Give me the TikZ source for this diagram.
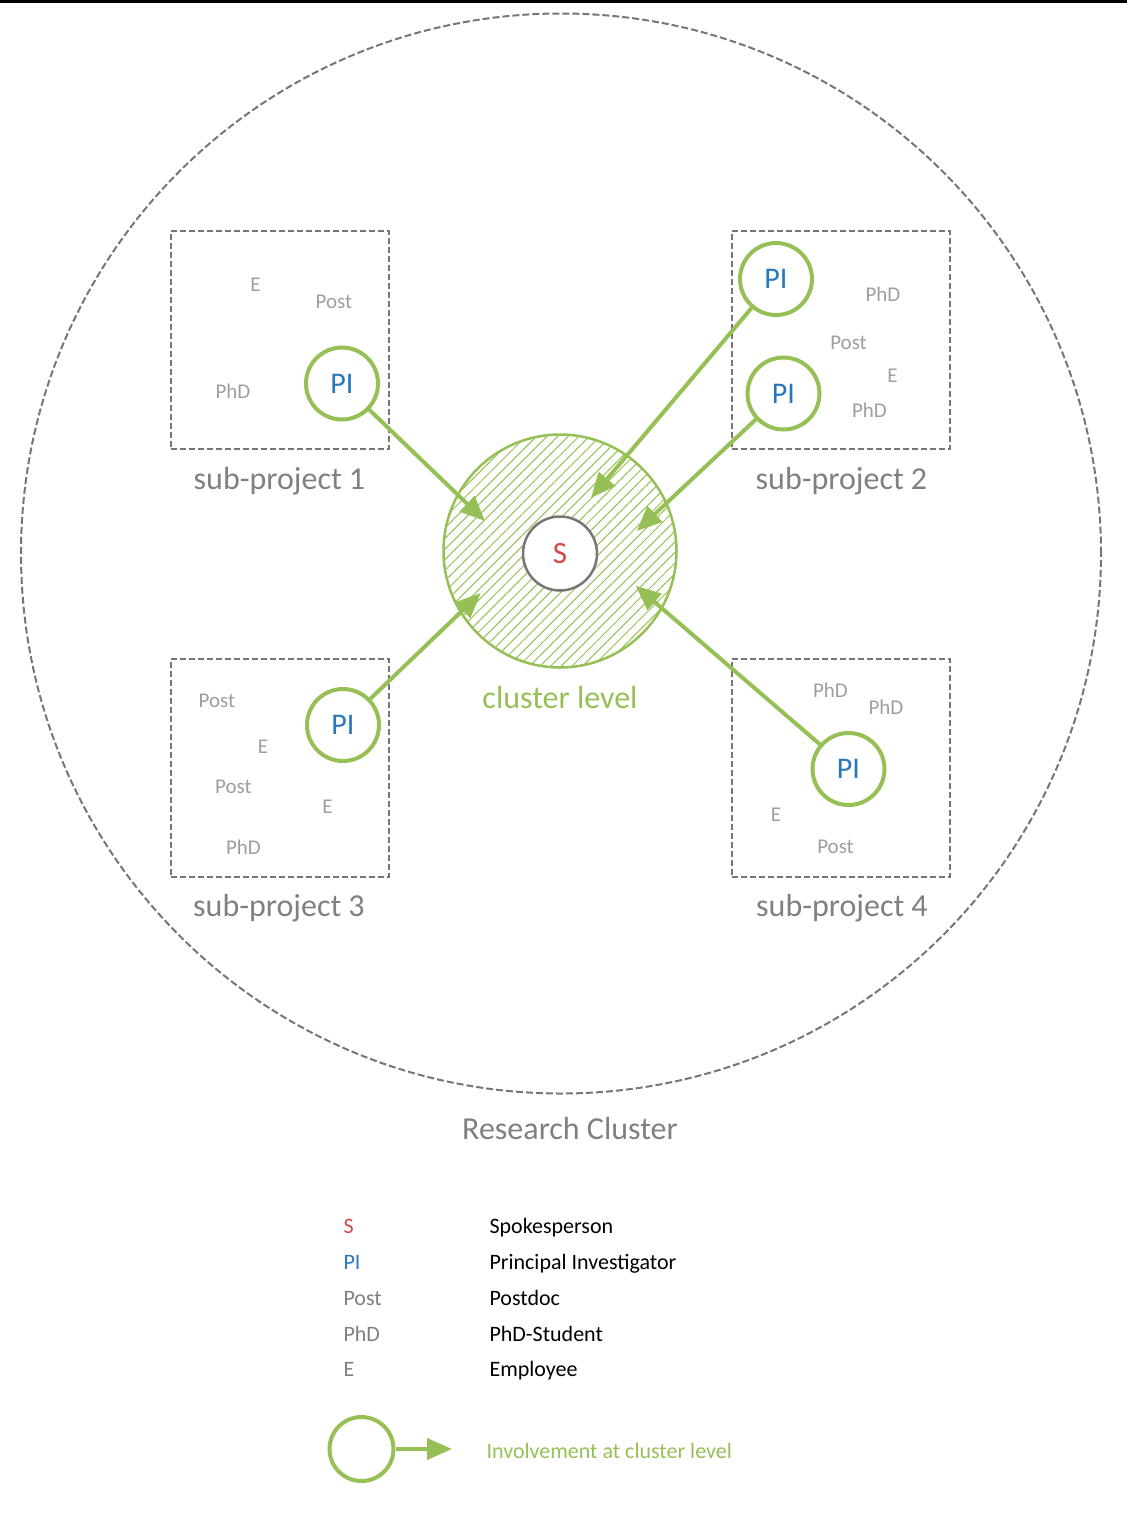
\documentclass[tikz,border=0pt]{standalone}
\usepackage{fontspec}
\setmainfont{Carlito}
\usetikzlibrary{arrows.meta,patterns.meta}
\definecolor{grn}{RGB}{150,192,85}
\definecolor{piblue}{RGB}{40,118,188}
\definecolor{sred}{RGB}{214,72,72}
\definecolor{gtxt}{RGB}{128,128,128}
\definecolor{gsmall}{RGB}{158,158,158}
\definecolor{gline}{RGB}{118,118,118}
\tikzset{
  fs/.style={font=\fontsize{#1}{#1}\selectfont},
  role/.style={anchor=base,text=gsmall,fs=21},
  picirc/.style={circle,draw=grn,fill=white,line width=4pt,minimum size=72pt,inner sep=0pt,text=piblue,fs=30},
  subbox/.style={draw=gline,line width=2pt,dash pattern=on 6pt off 3pt,minimum width=218pt,minimum height=218pt,inner sep=0pt},
  heading/.style={anchor=base,text=gtxt,fs=32},
  involve/.style={draw=grn,line width=4pt,-{Triangle[length=25pt,width=21pt]}},
  legtext/.style={anchor=base west,fs=22}
}
\begin{document}
\begin{tikzpicture}[x=1pt,y=-1pt]
\useasboundingbox (0,0) rectangle (1127,1535);
\draw[line width=3pt] (0,1.5) -- (1127,1.5);
\draw[gline,line width=2pt,dash pattern=on 7pt off 3pt] (561,553.5) circle (540pt);
\node[heading] (rc) at (570,1139) {Research Cluster};

\node[subbox] (sp1) at (280,340) {};
\node[subbox] (sp2) at (840.5,339.5) {};
\node[subbox] (sp3) at (279.5,767.5) {};
\node[subbox] (sp4) at (840.5,767.5) {};
\node[heading] (sp1lab) at (279.5,489) {sub-project 1};
\node[heading] (sp2lab) at (841.5,489) {sub-project 2};
\node[heading] (sp3lab) at (279,916) {sub-project 3};
\node[heading] (sp4lab) at (842,916) {sub-project 4};

\node[role] (e1) at (255.5,291.7) {E};
\node[role] (post1) at (334,308) {Post};
\node[role] (phd1) at (233,398) {PhD};
\node[role] (phd2a) at (883,301) {PhD};
\node[role] (post2) at (848.5,349) {Post};
\node[role] (e2) at (892.5,382) {E};
\node[role] (phd2b) at (869.5,417) {PhD};
\node[role] (post3a) at (217,707) {Post};
\node[role] (e3a) at (263,753) {E};
\node[role] (post3b) at (233.5,793) {Post};
\node[role] (e3b) at (327.5,813) {E};
\node[role] (phd3) at (243.5,854) {PhD};
\node[role] (phd4a) at (830.5,697) {PhD};
\node[role] (phd4b) at (886,714) {PhD};
\node[role] (e4) at (776,821) {E};
\node[role] (post4) at (835.5,853) {Post};

\node[circle,draw=grn,line width=2.5pt,minimum size=233pt,pattern={Lines[angle=45,distance=7.5pt,line width=1pt]},pattern color=grn] (cl) at (560,551) {};
\node[circle,draw=gline,line width=2.5pt,fill=white,minimum size=74pt,inner sep=0pt,text=sred,fs=31] (s) at (560,553.5) {S};
\node[heading,text=grn] (cllab) at (560,708) {cluster level};

\node[picirc] (pi1) at (342,383.5) {PI};
\node[picirc] (pi2a) at (776,279) {PI};
\node[picirc] (pi2b) at (783.5,393.5) {PI};
\node[picirc] (pi3) at (343,725) {PI};
\node[picirc] (pi4) at (848.5,769) {PI};
\coordinate (t1) at (485,521);
\coordinate (t2a) at (591,498);
\coordinate (t2b) at (636.7,531);
\coordinate (t3) at (480.7,593);
\coordinate (t4) at (635.7,585.7);
\draw[involve] (pi1) -- (t1);
\draw[involve] (pi2a) -- (t2a);
\draw[involve] (pi2b) -- (t2b);
\draw[involve] (pi3) -- (t3);
\draw[involve] (pi4) -- (t4);

\node[legtext,text=sred] (ls) at (340,1233) {S};
\node[legtext,text=piblue] (lpi) at (340,1269) {PI};
\node[legtext,text=gtxt] (lpost) at (340,1305) {Post};
\node[legtext,text=gtxt] (lphd) at (340,1341) {PhD};
\node[legtext,text=gtxt] (le) at (340,1376) {E};
\node[legtext] (lsd) at (486,1233) {Spokesperson};
\node[legtext] (lpid) at (486,1269) {Principal Investigator};
\node[legtext] (lpostd) at (486,1305) {Postdoc};
\node[legtext] (lphdd) at (486,1341) {PhD-Student};
\node[legtext] (led) at (486,1376) {Employee};
\node[picirc,minimum size=64pt] (lc) at (361.5,1449) {};
\coordinate (la) at (452,1449);
\draw[involve] (lc) -- (la);
\node[legtext,text=grn] (linv) at (483,1458) {Involvement at cluster level};
\end{tikzpicture}
\end{document}
